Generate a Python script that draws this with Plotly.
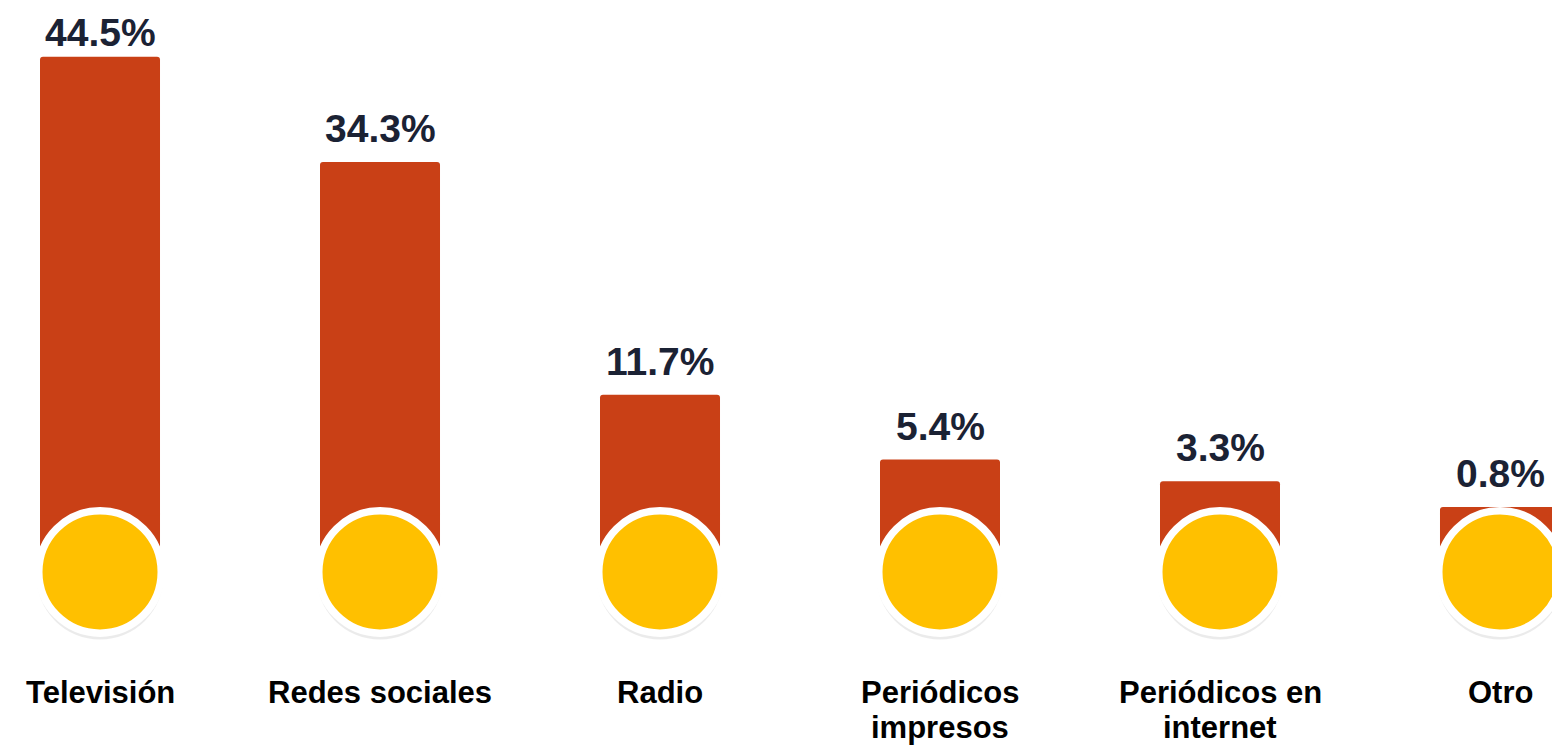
import plotly.graph_objects as go

categories = ["Televisión", "Redes sociales", "Radio", "Periódicos impresos", "Periódicos en internet", "Otro"]
label_lines = [["Televisión"], ["Redes sociales"], ["Radio"], ["Periódicos", "impresos"],
               ["Periódicos en", "internet"], ["Otro"]]
values = [44.5, 34.3, 11.7, 5.4, 3.3, 0.8]

BAR = "#C94016"
YEL = "#FFC000"
NAVY = "#1B2234"
FONT = "Liberation Sans, Arial, sans-serif"

Y_MIN, Y_MAX = -22.51, 49.24
circle_y = -5.51
n = len(categories)
bw = 0.4286

fig = go.Figure()
# stem behind circles (decorative), overlapping slightly into the value bar
fig.add_trace(go.Bar(x=categories, y=[-circle_y + 0.5] * n, base=[circle_y] * n,
                     marker=dict(color=BAR, line=dict(width=0)), width=bw, hoverinfo="skip"))
fig.add_trace(go.Bar(x=categories, y=values, marker=dict(color=BAR, line=dict(width=0)),
                     width=bw, hoverinfo="skip"))
# soft shadow under the circles
fig.add_trace(go.Scatter(x=categories, y=[circle_y - 0.4] * n, mode="markers",
                         marker=dict(size=127, color="rgba(0,0,0,0.08)", line=dict(width=0)),
                         hoverinfo="skip"))
fig.add_trace(go.Scatter(x=categories, y=[circle_y] * n, mode="markers",
                         marker=dict(size=122.5, color=YEL, line=dict(color="white", width=7.5)),
                         hoverinfo="skip"))

vmax = max(values)
for c, v in zip(categories, values):
    fig.add_annotation(x=c, y=v, yref="y", text=f"<b>{v:.1f}%</b>", showarrow=False,
                       yanchor="bottom", yshift=1 if v == vmax else 10,
                       font=dict(family=FONT, size=39, color=NAVY))
for c, lines in zip(categories, label_lines):
    fig.add_annotation(x=c, y=-17.17, yref="y", text=f"<b>{lines[0]}</b>", showarrow=False,
                       yanchor="middle", font=dict(family=FONT, size=31, color="#000000"))
    if len(lines) > 1:
        fig.add_annotation(x=c, y=Y_MIN, yref="y", text=f"<b>{lines[1]}</b>", showarrow=False,
                           yanchor="bottom", font=dict(family=FONT, size=31, color="#000000"))

fig.update_layout(
    width=1552, height=739,
    margin=dict(l=0, r=0, t=0, b=0),
    paper_bgcolor="white", plot_bgcolor="white",
    showlegend=False,
    barmode="overlay",
    barcornerradius=3,
    xaxis=dict(range=[-0.3286, 5.2143], visible=False, fixedrange=True),
    yaxis=dict(range=[Y_MIN, Y_MAX], visible=False, fixedrange=True),
)
fig.write_html("out.html")
